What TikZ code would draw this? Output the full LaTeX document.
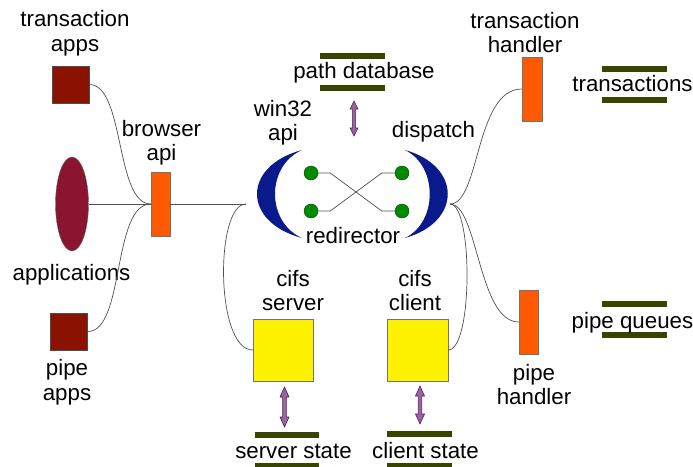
\documentclass[tikz,border=0pt]{standalone}
\usepackage{fontspec}
\setmainfont{Liberation Sans}
\usetikzlibrary{calc,shapes.geometric}
\definecolor{appred}{HTML}{8B1100}
\definecolor{ellred}{HTML}{8B1430}
\definecolor{handorange}{HTML}{FF5A00}
\definecolor{crescblue}{HTML}{0A1A8C}
\definecolor{dotgreen}{HTML}{008A00}
\definecolor{baroli}{HTML}{374500}
\definecolor{arrpurple}{HTML}{A060A8}
\definecolor{linegray}{HTML}{505050}
\begin{document}
\begin{tikzpicture}[x=1pt,y=-1pt,
  lbl/.style={font=\fontsize{22.3}{24.5}\selectfont, align=center, inner sep=0, anchor=base},
  appbox/.style={draw=black!70, fill=appred, minimum width=37, minimum height=37, inner sep=0},
  handler/.style={draw=black!55, fill=handorange, minimum width=19, minimum height=64, inner sep=0},
  cifsbox/.style={draw=black!55, fill=yellow, minimum width=60, minimum height=62, inner sep=0},
  bar/.style={fill=baroli, minimum width=65, minimum height=6, inner sep=0},
  dot/.style={circle, draw=green!25!black, fill=dotgreen, minimum size=14, inner sep=0},
  conn/.style={draw=linegray, line width=0.7},
  crescent/.style={fill=crescblue},
  pics/dblarrow/.style args={#1/#2/#3/#4}{code={\filldraw[fill=arrpurple, draw=black!60!arrpurple, line width=0.6]
     (0,0) -- (#2,#4) -- (#3,#4) -- (#3,#1-#4) -- (#2,#1-#4) -- (0,#1) -- (-#2,#1-#4) -- (-#3,#1-#4) -- (-#3,#4) -- (-#2,#4) -- cycle;}}
]
\useasboundingbox (0,0) rectangle (693,466);

% left applications
\node[appbox] (trapps) at (70.5,84.5) {};
\node[draw=black!60, fill=ellred, ellipse, minimum width=33, minimum height=94, inner sep=0] (apps) at (72,204) {};
\node[appbox] (pipeapps) at (69,331.5) {};
\node[handler] (browser) at (160.5,204) {};

\node[lbl] (ltrapps) at (75,51) {transaction\\apps};
\node[lbl] (lapps) at (71.5,280) {applications};
\node[lbl] (lpipeapps) at (67,400) {pipe\\apps};
\node[lbl] (lbrowser) at (161.5,160.5) {browser\\api};

% redirector
\fill[crescent] (302,150) .. controls (242,166) and (242,222) .. (302,238) .. controls (266,222) and (266,166) .. (302,150) -- cycle;
\fill[crescent] (405,150) .. controls (462,166) and (462,222) .. (405,238) .. controls (438,222) and (438,166) .. (405,150) -- cycle;
\coordinate (w32) at (246,204);
\coordinate (disp) at (450,204);
\node[dot] (dtl) at (311,173) {};
\node[dot] (dbl) at (311,211) {};
\node[dot] (dtr) at (402,173) {};
\node[dot] (dbr) at (402,211) {};
\draw[conn] (dtl.east) -- ++(12,0) -- ($(dbr.west)+(-13,0)$) -- (dbr.west);
\draw[conn] (dbl.east) -- ++(12,0) -- ($(dtr.west)+(-13,0)$) -- (dtr.west);
\node[lbl] (lredir) at (353,243) {redirector};
\node[lbl] (lwin) at (283,140.5) {win32\\api};
\node[lbl] (ldisp) at (433.5,137) {dispatch};

% path database
\node[bar] (pdb1) at (352.5,56) {};
\node[bar] (pdb2) at (352.5,87.5) {};
\node[lbl] (lpdb) at (364,78) {path database};
\pic at (354,101) {dblarrow=35/4/1.6/8};

% handlers
\node[handler, minimum width=20] (trh) at (532,89) {};
\node[handler] (pph) at (528.5,322) {};
\node[lbl] (ltrh) at (525,52.5) {transaction\\handler};
\node[lbl] (lpph) at (534,404.5) {pipe\\handler};

\node[bar] (tr1) at (634.5,69) {};
\node[bar] (tr2) at (634.5,100) {};
\node[lbl] (ltr) at (632.5,91) {transactions};
\node[bar] (pq1) at (634.5,304) {};
\node[bar] (pq2) at (634.5,335) {};
\node[lbl] (lpq) at (632.5,328) {pipe queues};

% cifs
\node[cifsbox] (srv) at (283,350) {};
\node[cifsbox, minimum width=61] (cli) at (417.5,350) {};
\node[lbl] (lsrv) at (293,310.5) {cifs\\server};
\node[lbl] (lcli) at (415,310.5) {cifs\\client};
\pic at (284.5,387) {dblarrow=40/4.5/1.9/10};
\pic at (420,386) {dblarrow=38/4.5/1.9/10};
\node[bar, minimum width=64] (ss1) at (287,435) {};
\node[bar, minimum width=64] (ss2) at (287,466) {};
\node[lbl] (lss) at (293.5,458) {server state};
\node[bar] (cs1) at (419.5,434) {};
\node[bar] (cs2) at (419.5,466) {};
\node[lbl] (lcs) at (425.5,458) {client state};

% connectors
\draw[conn] (trapps.east) .. controls (125,84.5) and (115,204) .. (browser.west);
\draw[conn] (apps.east) -- (browser.west);
\draw[conn] (pipeapps.east) .. controls (125,331.5) and (112,204) .. (browser.west);
\draw[conn] (browser.east) -- (w32);
\draw[conn] (w32) .. controls (215,204) and (215,350) .. (srv.west);
\draw[conn] (disp) .. controls (480,204) and (475,89) .. (trh.west);
\draw[conn] (disp) .. controls (478,204) and (478,322) .. (pph.west);
\draw[conn] (disp) .. controls (473,204) and (473,350) .. (cli.east);
\end{tikzpicture}
\end{document}
